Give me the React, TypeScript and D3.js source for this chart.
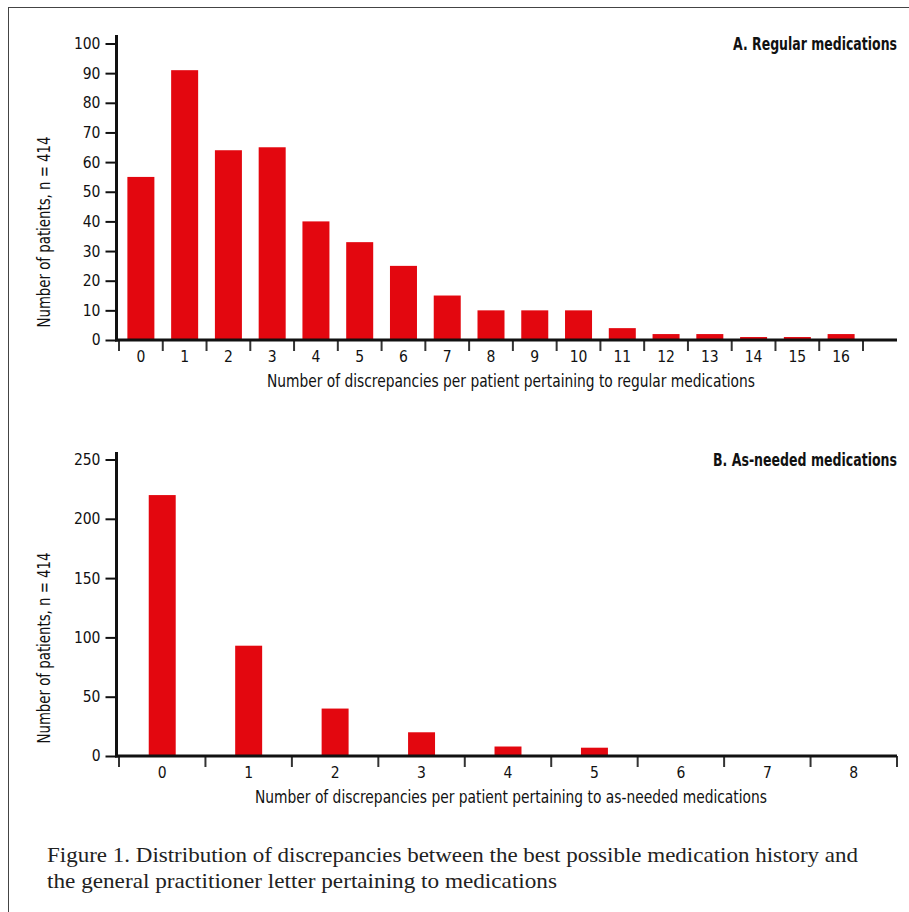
import React, { useRef, useEffect } from 'react'
import * as d3 from 'd3'

// Panel A: regular medications
const regularCategories = ['0', '1', '2', '3', '4', '5', '6', '7', '8', '9', '10', '11', '12', '13', '14', '15', '16']
const regularCounts = [55, 91, 64, 65, 40, 33, 25, 15, 10, 10, 10, 4, 2, 2, 1, 1, 2]
const regularTicks = [0, 10, 20, 30, 40, 50, 60, 70, 80, 90, 100]

// Panel B: as-needed medications
const asNeededCategories = ['0', '1', '2', '3', '4', '5', '6', '7', '8']
const asNeededCounts = [220, 93, 40, 20, 8, 7, 0, 0, 0]
const asNeededTicks = [0, 50, 100, 150, 200, 250]

const RED = '#e3070f'
const INK = '#111'
const SANS = "'Liberation Sans Narrow', 'DejaVu Sans Condensed', 'Arial Narrow', sans-serif"
const SERIF = "'Liberation Serif', 'DejaVu Serif', serif"

// squeeze a label to the width it has in the print
const fit = (sel, w) => sel.attr('textLength', w).attr('lengthAdjust', 'spacingAndGlyphs')

const drawPanel = (svg, opts) => {
    const { categories, counts, ticks, yMax, top, bottom, axisTop, xEnd, pad, title, titleW, xLabel, xLabelW, yLabelY } = opts
    const axisX = 116.5
    const axisEnd = 897

    const y = d3.scaleLinear().domain([0, yMax]).range([bottom, top])
    const x = d3.scaleBand()
        .domain(categories)
        .range([119, xEnd])
        .paddingInner(pad)
        .paddingOuter(pad / 2)

    const g = svg.append('g')

    g.selectAll('rect.bar')
        .data(counts)
        .join('rect')
        .attr('class', 'bar')
        .attr('x', (_, i) => x(categories[i]))
        .attr('width', x.bandwidth())
        .attr('y', (d) => y(d))
        .attr('height', (d) => bottom - y(d))
        .attr('fill', RED)

    // y axis ticks + labels
    const ya = g.append('g')
        .attr('transform', `translate(${axisX},0)`)
        .call(d3.axisLeft(y).tickValues(ticks).tickSize(11).tickPadding(5))
    ya.select('.domain').remove()
    ya.selectAll('line').attr('stroke', INK).attr('stroke-width', 2)
    ya.selectAll('text')
        .attr('font-family', SANS)
        .attr('font-size', 15.5)
        .attr('fill', INK)

    // x ticks at slot boundaries
    const half = (x.step() - x.bandwidth()) / 2
    const bounds = categories.map((c) => x(c) - half).concat([xEnd])
    g.selectAll('line.xtick')
        .data(bounds)
        .join('line')
        .attr('class', 'xtick')
        .attr('x1', (d) => d)
        .attr('x2', (d) => d)
        .attr('y1', bottom)
        .attr('y2', bottom + 11)
        .attr('stroke', '#333')
        .attr('stroke-width', 2)

    g.selectAll('text.xlab')
        .data(categories)
        .join('text')
        .attr('class', 'xlab')
        .attr('x', (d) => x(d) + x.bandwidth() / 2)
        .attr('y', bottom + 22)
        .attr('text-anchor', 'middle')
        .attr('font-family', SANS)
        .attr('font-size', 15.5)
        .attr('fill', INK)
        .text((d) => d)

    // axis lines
    g.append('line')
        .attr('x1', axisX).attr('x2', axisX)
        .attr('y1', axisTop).attr('y2', bottom + 1.5)
        .attr('stroke', INK).attr('stroke-width', 3)
    g.append('line')
        .attr('x1', axisX - 1.5).attr('x2', axisEnd)
        .attr('y1', bottom).attr('y2', bottom)
        .attr('stroke', INK).attr('stroke-width', 3)

    g.append('text')
        .attr('x', 511)
        .attr('y', bottom + 47)
        .attr('text-anchor', 'middle')
        .attr('font-family', SANS)
        .attr('font-size', 17)
        .attr('fill', INK)
        .text(xLabel)
        .call(fit, xLabelW)

    g.append('text')
        .attr('transform', `translate(50,${yLabelY}) rotate(-90)`)
        .attr('text-anchor', 'middle')
        .attr('font-family', SANS)
        .attr('font-size', 17)
        .attr('fill', INK)
        .text('Number of patients, n = 414')
        .call(fit, 191)

    g.append('text')
        .attr('x', axisEnd)
        .attr('y', top + 6.5)
        .attr('text-anchor', 'end')
        .attr('font-family', SANS)
        .attr('font-weight', 'bold')
        .attr('font-size', 17)
        .attr('fill', INK)
        .text(title)
        .call(fit, titleW)
}

const App = () => {
    const svgRef = useRef(null)

    useEffect(() => {
        const svg = d3.select(svgRef.current)
        svg.selectAll('*').remove()

        svg.append('rect')
            .attr('x', 8.5).attr('y', 7.5)
            .attr('width', 2000).attr('height', 2000)
            .attr('fill', 'none')
            .attr('stroke', '#444')
            .attr('stroke-width', 1)

        drawPanel(svg, {
            categories: regularCategories,
            counts: regularCounts,
            ticks: regularTicks,
            yMax: 100,
            top: 43.5,
            bottom: 340,
            axisTop: 35,
            xEnd: 863,
            pad: 0.383,
            title: 'A. Regular medications',
            titleW: 164,
            xLabel: 'Number of discrepancies per patient pertaining to regular medications',
            xLabelW: 488,
            yLabelY: 232,
        })

        drawPanel(svg, {
            categories: asNeededCategories,
            counts: asNeededCounts,
            ticks: asNeededTicks,
            yMax: 250,
            top: 459.5,
            bottom: 756,
            axisTop: 452,
            xEnd: 897,
            pad: 0.688,
            title: 'B. As-needed medications',
            titleW: 184,
            xLabel: 'Number of discrepancies per patient pertaining to as-needed medications',
            xLabelW: 512,
            yLabelY: 648,
        })

        const caption = svg.append('g')
            .attr('font-family', SERIF)
            .attr('font-size', 21)
            .attr('fill', '#222')
        caption.append('text')
            .attr('x', 47).attr('y', 862)
            .text('Figure 1. Distribution of discrepancies between the best possible medication history and')
            .call(fit, 811)
        caption.append('text')
            .attr('x', 47).attr('y', 888)
            .text('the general practitioner letter pertaining to medications')
            .call(fit, 510)
    }, [])

    return (
        <svg
            ref={svgRef}
            width={909}
            height={912}
            style={{ position: 'fixed', left: 0, top: 0, background: '#fff' }}
        />
    )
}

export default App
